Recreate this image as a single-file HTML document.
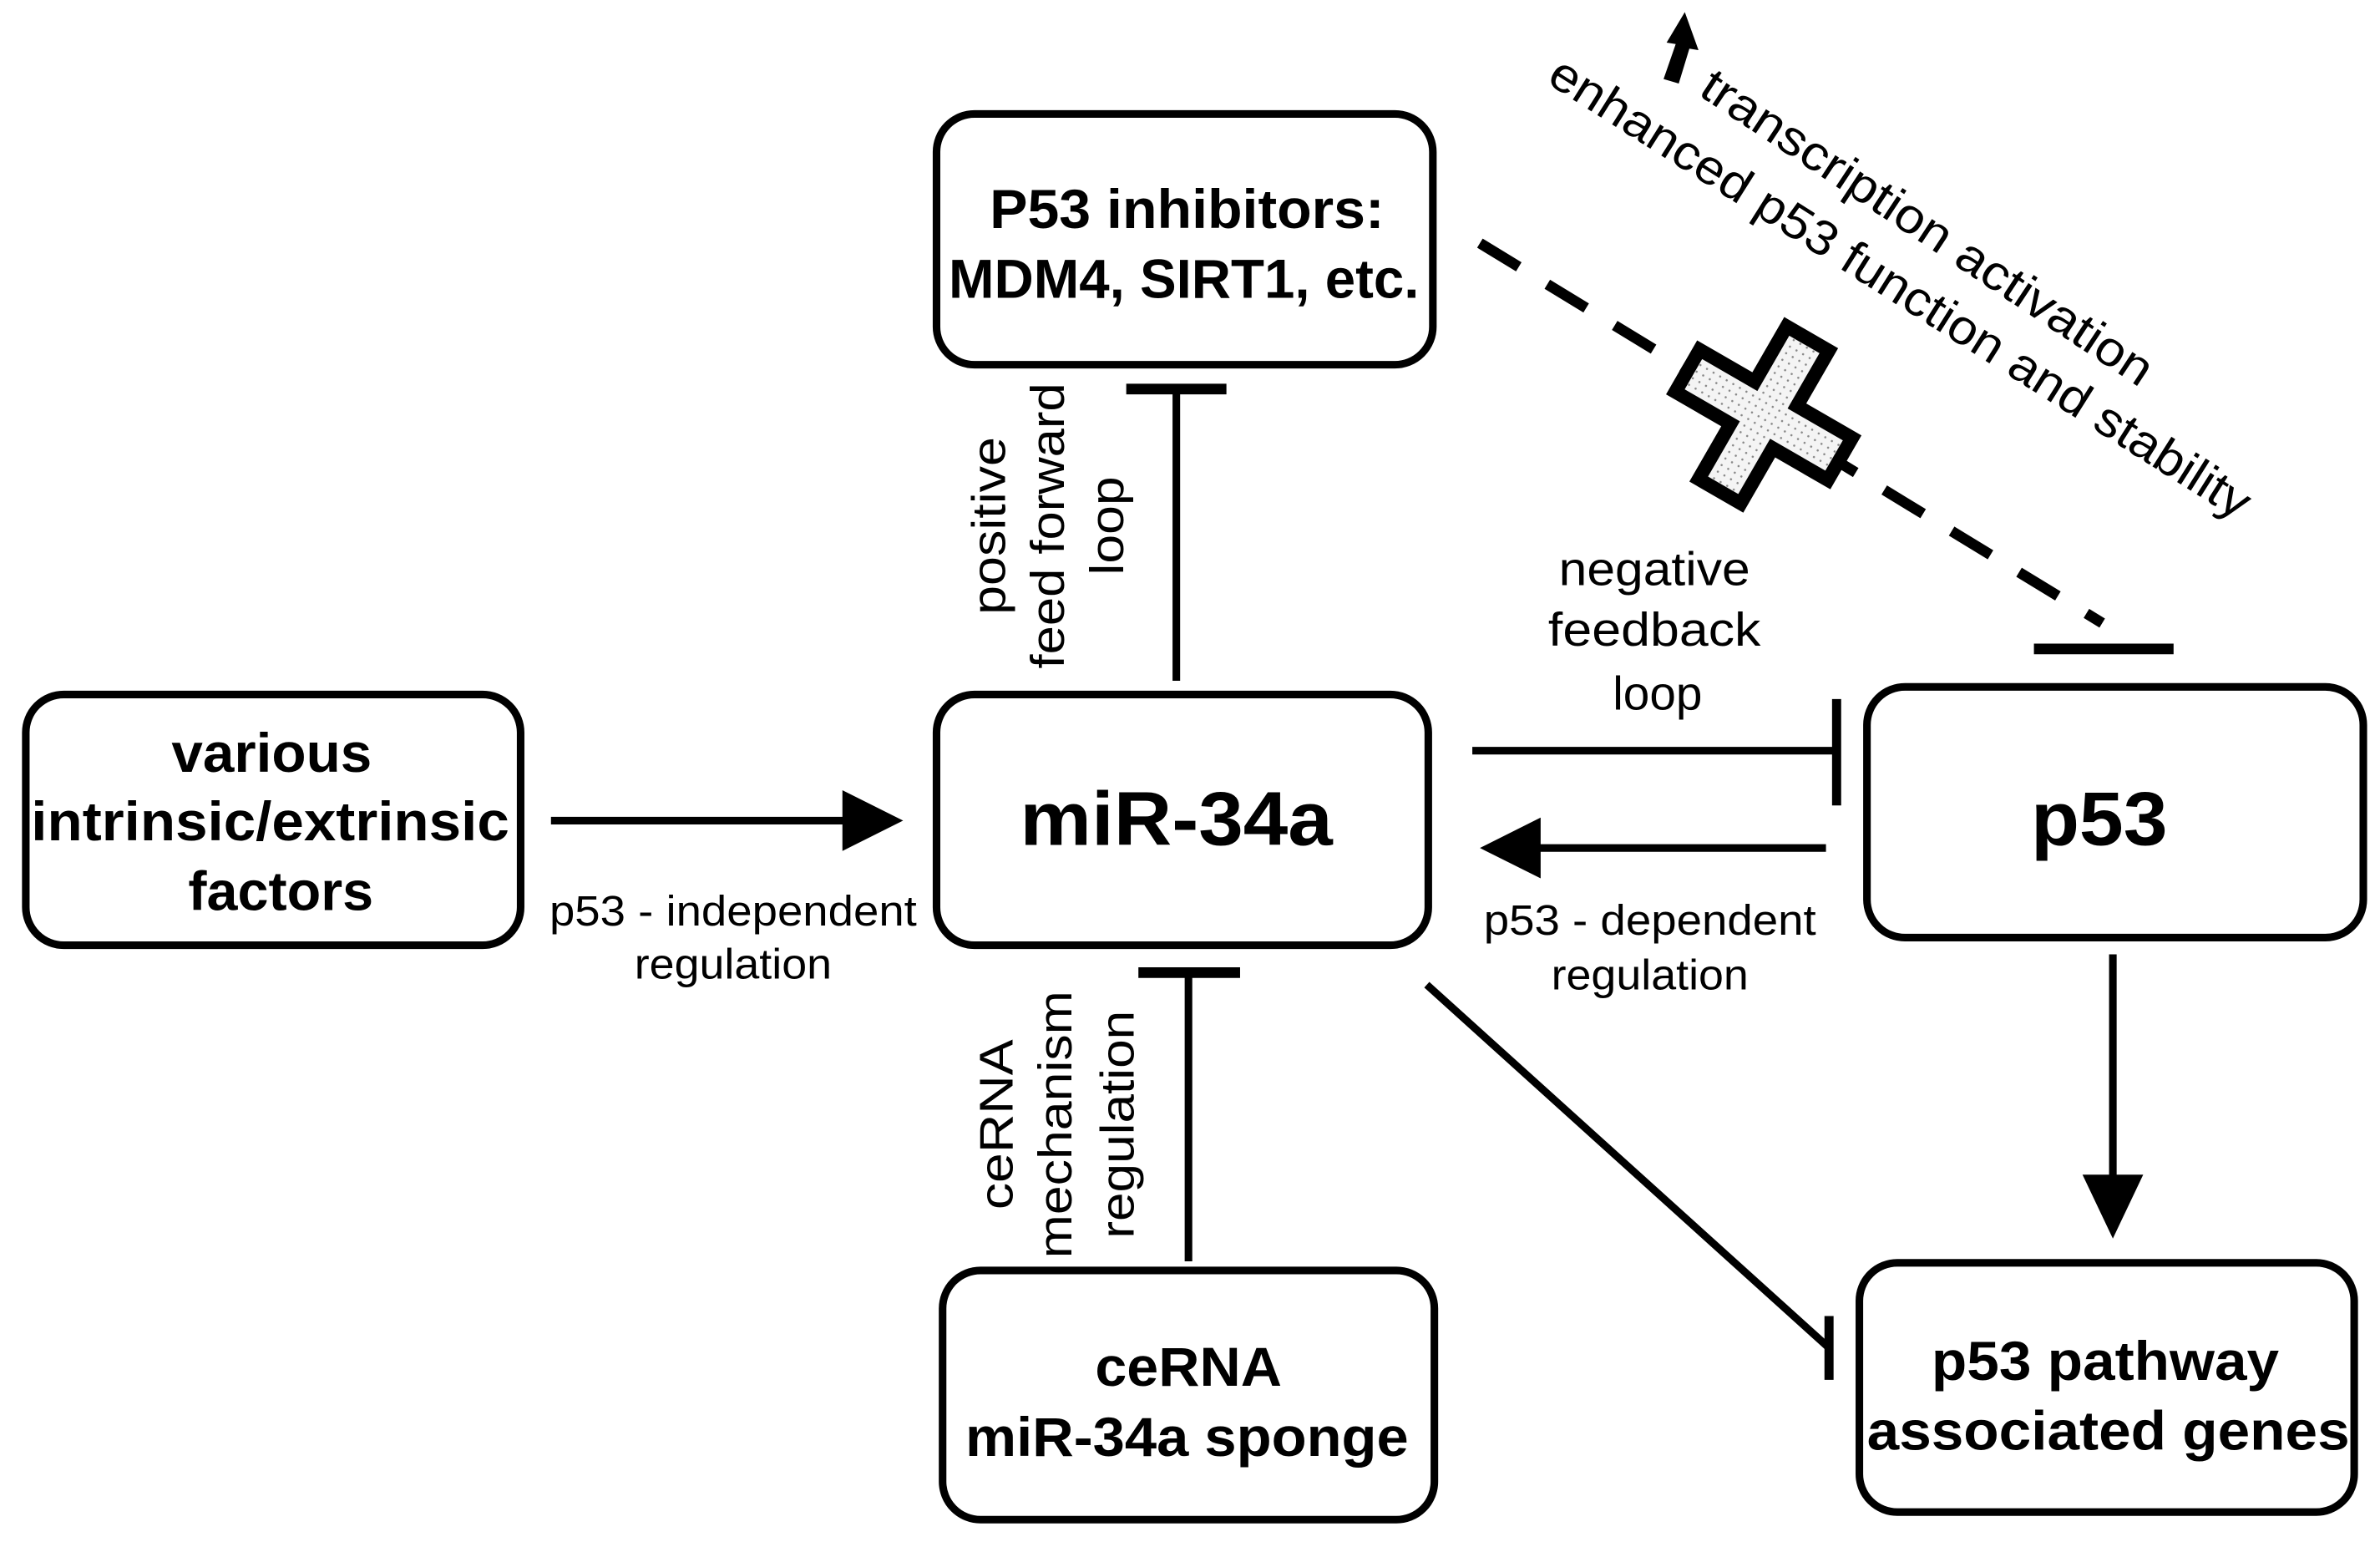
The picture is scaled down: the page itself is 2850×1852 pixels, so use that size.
<!DOCTYPE html>
<html><head><style>html,body{margin:0;padding:0;background:#fff;}svg{display:block;font-family:"Liberation Sans",Arial,sans-serif}text{font-family:"Liberation Sans",Arial,sans-serif}</style></head>
<body>
<svg width="2850" height="1852" viewBox="0 0 1568 1018" preserveAspectRatio="none" xmlns="http://www.w3.org/2000/svg">
<defs>
<pattern id="dots" width="5" height="5" patternUnits="userSpaceOnUse"><rect width="5" height="5" fill="#f4f4f4"/><circle cx="2.5" cy="2.5" r="0.7" fill="#888"/></pattern>
</defs>
<g fill="none" stroke="#000" stroke-width="5">
<rect x="617" y="75" width="327" height="165" rx="25"/>
<rect x="17" y="457" width="326" height="165" rx="25"/>
<rect x="617" y="457" width="324" height="165" rx="25"/>
<rect x="1230" y="452" width="327" height="165" rx="25"/>
<rect x="621" y="836" width="324" height="164" rx="25"/>
<rect x="1225" y="831" width="326" height="164" rx="25"/>
<line x1="775" y1="448" x2="775" y2="256"/>
<line x1="742" y1="256" x2="808" y2="256" stroke-width="7"/>
<line x1="783" y1="830" x2="783" y2="640"/>
<line x1="750" y1="640" x2="817" y2="640" stroke-width="7"/>
<line x1="363" y1="540" x2="560" y2="540"/>
<line x1="970" y1="494" x2="1210" y2="494"/>
<line x1="1210" y1="460" x2="1210" y2="530" stroke-width="6"/>
<line x1="1203" y1="558" x2="1010" y2="558"/>
<line x1="1392" y1="628" x2="1392" y2="780"/>
<line x1="940" y1="648" x2="1205" y2="887"/>
<line x1="1205" y1="866" x2="1205" y2="908" stroke-width="6"/>
<line x1="975" y1="160" x2="1385" y2="410" stroke-width="7" stroke-dasharray="30,22"/>
<line x1="1340" y1="427" x2="1432" y2="427" stroke-width="7"/>
</g>
<polygon points="595,540 555,520 555,560" fill="#000"/>
<polygon points="975,558 1015,538 1015,578" fill="#000"/>
<polygon points="1392,815 1372,773 1412,773" fill="#000"/>
<polygon points="1110,8 1098,28 1104,29 1096,52 1106,55 1113,32 1119,33" fill="#000"/>
<g transform="translate(1162,273) rotate(30)">
<path d="M-16,-58 H16 V-16 H58 V16 H16 V58 H-16 V16 H-58 V-16 H-16 Z" fill="url(#dots)" stroke="#000" stroke-width="9"/>
</g>
<g fill="#000" text-anchor="middle" lengthAdjust="spacingAndGlyphs">
<text x="782" y="150" font-size="36" font-weight="bold" textLength="260" lengthAdjust="spacingAndGlyphs">P53 inhibitors:</text>
<text x="780" y="196" font-size="36" font-weight="bold" textLength="310" lengthAdjust="spacingAndGlyphs">MDM4, SIRT1, etc.</text>
<text x="179" y="508" font-size="36" font-weight="bold" textLength="132" lengthAdjust="spacingAndGlyphs">various</text>
<text x="178" y="553" font-size="36" font-weight="bold" textLength="315" lengthAdjust="spacingAndGlyphs">intrinsic/extrinsic</text>
<text x="185" y="599" font-size="36" font-weight="bold" textLength="122" lengthAdjust="spacingAndGlyphs">factors</text>
<text x="775" y="556" font-size="50" font-weight="bold" textLength="206" lengthAdjust="spacingAndGlyphs">miR-34a</text>
<text x="1383" y="556" font-size="50" font-weight="bold" textLength="90" lengthAdjust="spacingAndGlyphs">p53</text>
<text x="783" y="912" font-size="36" font-weight="bold" textLength="123" lengthAdjust="spacingAndGlyphs">ceRNA</text>
<text x="782" y="958" font-size="36" font-weight="bold" textLength="292" lengthAdjust="spacingAndGlyphs">miR-34a sponge</text>
<text x="1387" y="908" font-size="36" font-weight="bold" textLength="229" lengthAdjust="spacingAndGlyphs">p53 pathway</text>
<text x="1389" y="954" font-size="36" font-weight="bold" textLength="318" lengthAdjust="spacingAndGlyphs">associated genes</text>
<text x="483" y="609" font-size="28" textLength="242" lengthAdjust="spacingAndGlyphs">p53 - independent</text>
<text x="483" y="644" font-size="28" textLength="130" lengthAdjust="spacingAndGlyphs">regulation</text>
<text x="1087" y="615" font-size="28" textLength="219" lengthAdjust="spacingAndGlyphs">p53 - dependent</text>
<text x="1087" y="651" font-size="28" textLength="130" lengthAdjust="spacingAndGlyphs">regulation</text>
<text x="1090" y="385" font-size="31" textLength="126" lengthAdjust="spacingAndGlyphs">negative</text>
<text x="1090" y="425" font-size="31" textLength="140" lengthAdjust="spacingAndGlyphs">feedback</text>
<text x="1092" y="467" font-size="31" textLength="59" lengthAdjust="spacingAndGlyphs">loop</text>
<g transform="translate(690,346) rotate(-90)" font-size="31">
<text x="0" y="-28" textLength="117" lengthAdjust="spacingAndGlyphs">positive</text>
<text x="0" y="11" textLength="188" lengthAdjust="spacingAndGlyphs">feed forward</text>
<text x="0" y="50" textLength="65" lengthAdjust="spacingAndGlyphs">loop</text>
</g>
<g transform="translate(695,740) rotate(-90)" font-size="31">
<text x="0" y="-28" textLength="112" lengthAdjust="spacingAndGlyphs">ceRNA</text>
<text x="0" y="11" textLength="176" lengthAdjust="spacingAndGlyphs">mechanism</text>
<text x="0" y="52" textLength="150" lengthAdjust="spacingAndGlyphs">regulation</text>
</g>
</g>
<g fill="#000" font-size="32">
<text transform="translate(1118,62) rotate(33.5)" textLength="350" lengthAdjust="spacingAndGlyphs">transcription activation</text>
<text transform="translate(1018,54) rotate(32.3)" textLength="540" lengthAdjust="spacingAndGlyphs">enhanced p53 function and stability</text>
</g>
</svg>
</body></html>
